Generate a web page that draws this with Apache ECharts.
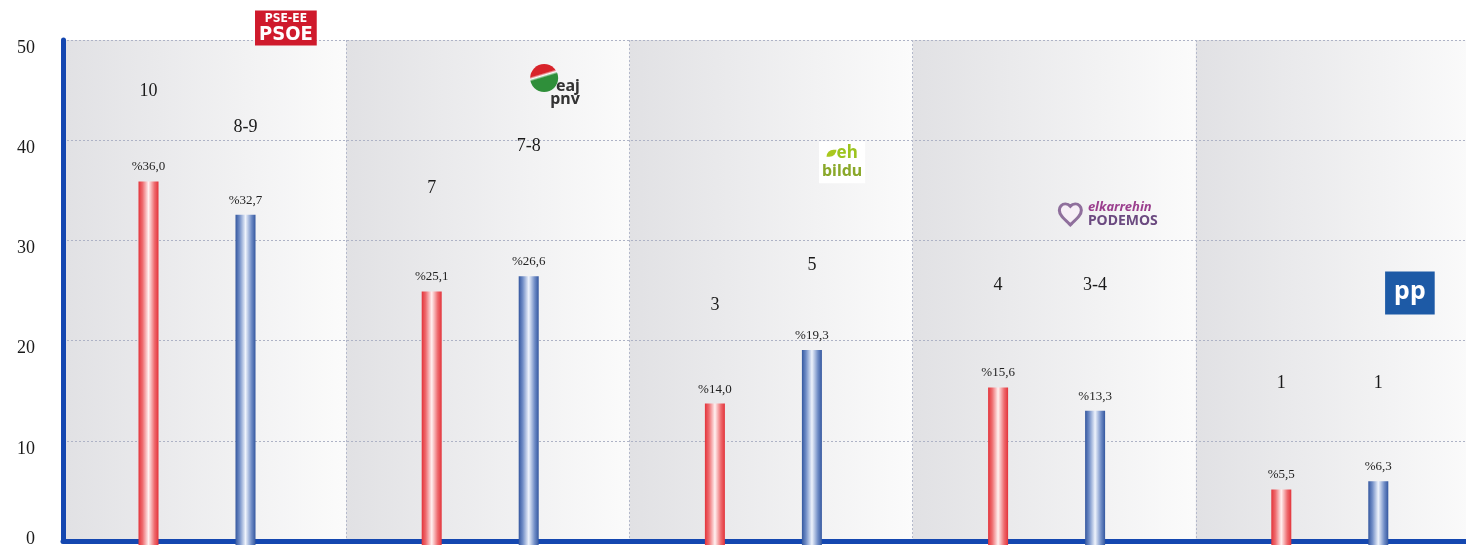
<!DOCTYPE html>
<html>
<head>
<meta charset="utf-8">
<script src="https://cdn.jsdelivr.net/npm/echarts@6/dist/echarts.min.js"></script>
<style>
html,body{margin:0;padding:0;background:#fff;overflow:hidden;width:1466px;height:548px;}
#chart{width:1480px;height:548px;}
</style>
</head>
<body>
<div id="chart"></div>
<script>
// ---- data ----
const categories = ['PSE-EE PSOE', 'EAJ-PNV', 'EH Bildu', 'Elkarrehin Podemos', 'PP'];
const yTicks = [0, 10, 20, 30, 40, 50];
const prevVotes = [36.0, 25.1, 14.0, 15.6, 5.5];   // red bars
const pollVotes = [32.7, 26.6, 19.3, 13.3, 6.3];   // blue bars
const prevSeats = ['10', '7', '3', '4', '1'];
const pollSeats = ['8-9', '7-8', '5', '3-4', '1'];
const prevSeatY = [45.0, 35.4, 23.8, 25.8, 16.1];
const pollSeatY = [41.5, 39.6, 27.8, 25.8, 16.1];
const logoX = [0.787, 1.699, 2.751, 3.557, 4.756];
const logoY = [51.2, 46.2, 37.8, 32.6, 24.75];

const SERIF = "'Liberation Serif', 'DejaVu Serif', serif";
const fmtPct = v => '%' + v.toFixed(1).replace('.', ',');

const redGrad = {type:'linear', x:0, y:0, x2:1, y2:0, colorStops:[
  {offset:0, color:'#e3333a'}, {offset:0.2, color:'#ee6a6e'}, {offset:0.5, color:'#fff1f1'},
  {offset:0.8, color:'#ee6a6e'}, {offset:1, color:'#e3333a'}]};
const blueGrad = {type:'linear', x:0, y:0, x2:1, y2:0, colorStops:[
  {offset:0, color:'#34579f'}, {offset:0.2, color:'#6f8cc6'}, {offset:0.5, color:'#eef3fc'},
  {offset:0.8, color:'#6f8cc6'}, {offset:1, color:'#34579f'}]};
const bgGrad = {type:'linear', x:0, y:0, x2:1, y2:0, colorStops:[
  {offset:0, color:'#e1e1e4'}, {offset:1, color:'#fbfbfb'}]};

const logoItems = [
  { // PSOE
    value:[logoX[0], logoY[0]], symbolSize:0,
    label:{show:true, position:'inside', formatter:'{a|PSE-EE}\n{b|PSOE}', backgroundColor:'#cf1a2c',
      padding:[2,4,1,4], align:'center',
      rich:{a:{fontFamily:"'Liberation Sans Narrow','DejaVu Sans Condensed',sans-serif", fontWeight:'bold', fontSize:12, lineHeight:13, color:'#fff', align:'center'},
            b:{fontFamily:"'Liberation Sans Narrow','DejaVu Sans Condensed',sans-serif", fontWeight:'bold', fontSize:20, lineHeight:19, color:'#fff', align:'center'}}}
  },
  { // PNV
    value:[logoX[1], logoY[1]], symbol:'circle', symbolSize:28,
    itemStyle:{color:{type:'linear', x:0, y:0, x2:0.3, y2:1, colorStops:[
      {offset:0, color:'#d8232a'}, {offset:0.42, color:'#d8232a'}, {offset:0.5, color:'#ffffff'},
      {offset:0.58, color:'#2f8f3a'}, {offset:1, color:'#2f8f3a'}]}},
    label:{show:true, position:[20, 16], formatter:'{e|eaj}\n{p|pnv}',
      rich:{e:{fontFamily:"'Noto Sans',sans-serif", fontWeight:'bold', fontSize:16, lineHeight:13, color:'#333', align:'right'},
            p:{fontFamily:"'Noto Sans',sans-serif", fontWeight:'bold', fontSize:16, lineHeight:13, color:'#333', align:'right'}}}
  },
  { // Bildu
    value:[logoX[2], logoY[2]], symbolSize:0,
    label:{show:true, position:'inside', formatter:'{l| }{e|eh}\n{b|bildu}', backgroundColor:'#ffffff', padding:[3,3,3,3],
      rich:{l:{width:10, height:7, backgroundColor:'#a9c81e', borderRadius:[7,0,7,0]},
            e:{fontFamily:"'Noto Sans',sans-serif", fontWeight:'bold', fontSize:17, lineHeight:18, color:'#9cc41e'},
            b:{fontFamily:"'Noto Sans',sans-serif", fontWeight:'bold', fontSize:16, lineHeight:18, color:'#8aa82a'}}}
  },
  { // Podemos
    value:[logoX[3], logoY[3]], symbol:'path://M12,21.35l-1.45-1.32C5.4,15.36,2,12.28,2,8.5C2,5.42,4.42,3,7.5,3c1.74,0,3.41,0.81,4.5,2.09C13.09,3.81,14.76,3,16.5,3C19.58,3,22,5.42,22,8.5c0,3.78-3.4,6.86-8.55,11.54L12,21.35z',
    symbolSize:[22, 21], itemStyle:{color:'#f6eef6', borderColor:'#8f6f9c', borderWidth:3, opacity:1},
    label:{show:true, position:'right', distance:5, formatter:'{a|elkarrehin}\n{b|PODEMOS}',
      rich:{a:{fontFamily:"'Noto Sans',sans-serif", fontWeight:'bold', fontStyle:'italic', fontSize:13, lineHeight:13, color:'#9b3f8e'},
            b:{fontFamily:"'Noto Sans',sans-serif", fontWeight:'bold', fontSize:14, lineHeight:14, color:'#6b4a80'}}}
  },
  { // PP
    value:[logoX[4], logoY[4]], symbolSize:0,
    label:{show:true, position:'inside', formatter:'{a|pp}', backgroundColor:'#1d5aa6', padding:[6,9,8,9],
      rich:{a:{fontFamily:"'Noto Sans',sans-serif", fontWeight:'bold', fontSize:25, lineHeight:29, color:'#fff'}}}
  }
];

const chart = echarts.init(document.getElementById('chart'), null, {renderer:'canvas', width:1480, height:548});
chart.setOption({
  animation:false,
  backgroundColor:'#ffffff',
  grid:[
    {left:63, top:40, right:1, bottom:3},
    {left:55.4, top:40, right:8.6, bottom:3}
  ],
  xAxis:[
    {gridIndex:0, type:'category', data:categories,
     axisLine:{show:true, lineStyle:{color:'#1447b0', width:5}},
     axisTick:{show:false}, axisLabel:{show:false},
     splitLine:{show:true, lineStyle:{type:[2,2], color:'#b4b9cb', width:1}}},
    {gridIndex:1, type:'category', data:categories, show:false},
    {gridIndex:0, type:'value', min:0, max:5, show:false}
  ],
  yAxis:[
    {gridIndex:0, type:'value', min:yTicks[0], max:yTicks[yTicks.length-1], interval:10, offset:2,
     axisLine:{show:true, lineStyle:{color:'#1447b0', width:5}},
     axisTick:{show:false},
     axisLabel:{margin:26, color:'#1a1a1a', fontFamily:SERIF, fontSize:18,
       formatter: v => v === 0 ? '{z|0}' : '{n|' + v + '}',
       rich:{n:{fontFamily:SERIF, fontSize:18, color:'#1a1a1a', padding:[16,0,0,0]},
             z:{fontFamily:SERIF, fontSize:18, color:'#1a1a1a', padding:[0,0,4,0]}}},
     splitLine:{show:true, lineStyle:{type:[2,2], color:'#aeb3c6', width:1}}},
    {gridIndex:1, type:'value', min:0, max:50, show:false}
  ],
  series:[
    {name:'bg', type:'bar', xAxisIndex:0, yAxisIndex:0, z:-1, silent:true,
     data:categories.map(() => yTicks[yTicks.length-1]), barWidth:'100%',
     itemStyle:{color:bgGrad}},
    {name:'prev', type:'bar', xAxisIndex:1, yAxisIndex:1, stack:'prev', barWidth:20, barGap:'385%',
     data:prevVotes, itemStyle:{color:redGrad},
     label:{show:true, position:'top', distance:8, formatter:p => fmtPct(p.value), fontFamily:SERIF, fontSize:13, color:'#222'}},
    {name:'prevSeats', type:'bar', xAxisIndex:1, yAxisIndex:1, stack:'prev', barWidth:20, barGap:'385%', silent:true,
     data:prevSeatY.map((y, i) => y - prevVotes[i]), itemStyle:{color:'rgba(0,0,0,0)'},
     label:{show:true, position:'top', distance:0, offset:[0, 10], formatter:p => prevSeats[p.dataIndex], fontFamily:SERIF, fontSize:18, color:'#1a1a1a'}},
    {name:'poll', type:'bar', xAxisIndex:1, yAxisIndex:1, stack:'poll', barWidth:20, barGap:'385%',
     data:pollVotes, itemStyle:{color:blueGrad},
     label:{show:true, position:'top', distance:8, formatter:p => fmtPct(p.value), fontFamily:SERIF, fontSize:13, color:'#222'}},
    {name:'pollSeats', type:'bar', xAxisIndex:1, yAxisIndex:1, stack:'poll', barWidth:20, barGap:'385%', silent:true,
     data:pollSeatY.map((y, i) => y - pollVotes[i]), itemStyle:{color:'rgba(0,0,0,0)'},
     label:{show:true, position:'top', distance:0, offset:[0, 10], formatter:p => pollSeats[p.dataIndex], fontFamily:SERIF, fontSize:18, color:'#1a1a1a'}},
    {name:'logos', type:'scatter', xAxisIndex:2, yAxisIndex:0, clip:false, silent:true, z:5,
     itemStyle:{opacity:1}, data:logoItems}
  ]
});
</script>
</body>
</html>
